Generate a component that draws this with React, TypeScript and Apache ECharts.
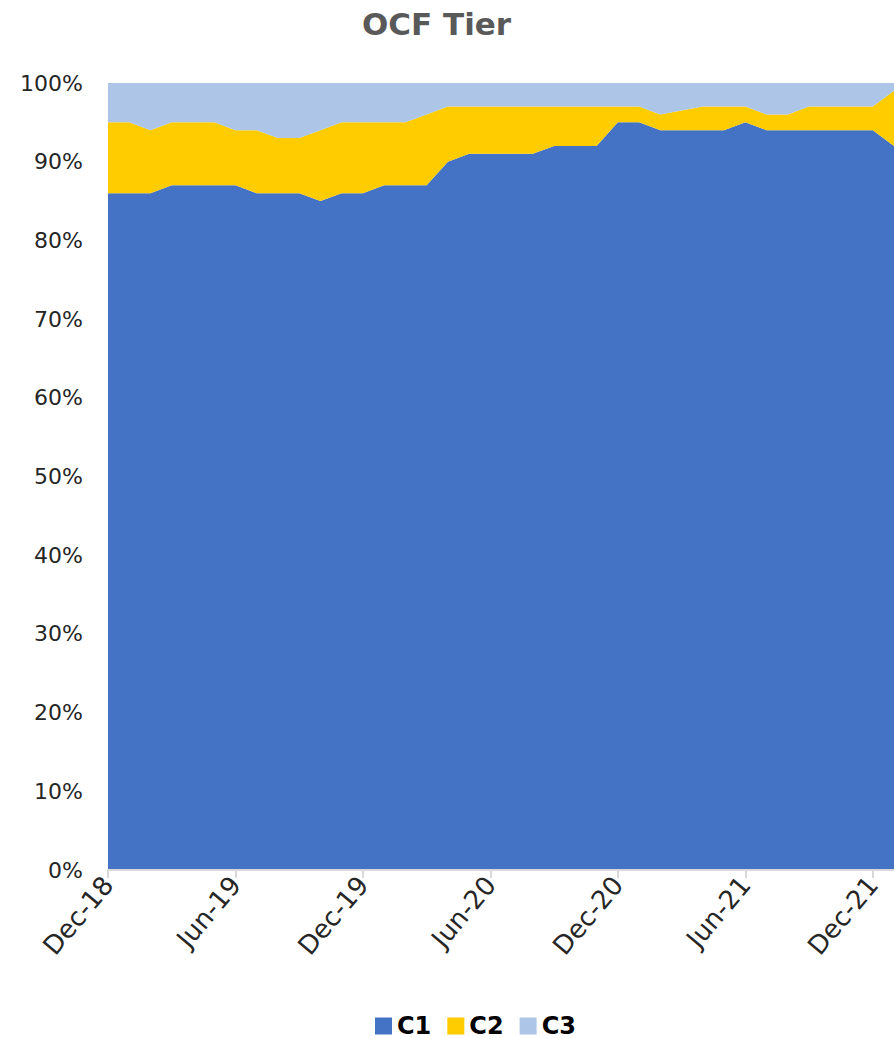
import React, { useEffect, useRef } from "react";
import * as echarts from "echarts";

const months = [
  "Dec-18", "Jan-19", "Feb-19", "Mar-19", "Apr-19", "May-19", "Jun-19", "Jul-19", "Aug-19", "Sep-19", "Oct-19", "Nov-19",
  "Dec-19", "Jan-20", "Feb-20", "Mar-20", "Apr-20", "May-20", "Jun-20", "Jul-20", "Aug-20", "Sep-20", "Oct-20", "Nov-20",
  "Dec-20", "Jan-21", "Feb-21", "Mar-21", "Apr-21", "May-21", "Jun-21", "Jul-21", "Aug-21", "Sep-21", "Oct-21", "Nov-21",
  "Dec-21", "Jan-22",
];

const c1 = [
  86, 86, 86, 87, 87, 87, 87, 86, 86, 86, 85, 86,
  86, 87, 87, 87, 90, 91, 91, 91, 91, 92, 92, 92,
  95, 95, 94, 94, 94, 94, 95, 94, 94, 94, 94, 94,
  94, 92,
];

const c2 = [
  9, 9, 8, 8, 8, 8, 7, 8, 7, 7, 9, 9,
  9, 8, 8, 9, 7, 6, 6, 6, 6, 5, 5, 5,
  2, 2, 2, 2.5, 3, 3, 2, 2, 2, 3, 3, 3,
  3, 7,
];

const c3 = c1.map((v, i) => 100 - v - c2[i]);

const yTicks = { min: 0, max: 100, interval: 10 };

const FONT = "DejaVu Sans";

export default function App() {
  const ref = useRef<HTMLDivElement>(null);
  useEffect(() => {
    if (!ref.current) return;
    const chart = echarts.init(ref.current, undefined, { renderer: "svg" });
    const mk = (name: string, data: number[], color: string) => ({
      name,
      type: "line",
      stack: "total",
      data,
      symbol: "none",
      lineStyle: { width: 0 },
      areaStyle: { color, opacity: 1 },
      itemStyle: { color },
      emphasis: { disabled: true },
    });
    chart.setOption({
      animation: false,
      backgroundColor: "#ffffff",
      title: {
        text: "OCF Tier",
        left: 357,
        top: 3,
        textStyle: { fontFamily: FONT, fontSize: 31, fontWeight: "bold", color: "#595959" },
      },
      legend: {
        left: 370,
        top: 1009,
        icon: "rect",
        itemWidth: 17,
        itemHeight: 17,
        itemGap: 16,
        textStyle: { fontFamily: FONT, fontSize: 24, fontWeight: "bold", color: "#000000" },
        data: ["C1", "C2", "C3"],
      },
      grid: { left: 108, right: -4.4, top: 83, bottom: 169, containLabel: false },
      xAxis: {
        type: "category",
        boundaryGap: false,
        data: months,
        axisLine: { show: true, lineStyle: { color: "#D9D9D9", width: 2 } },
        axisTick: { show: true, interval: 5, length: 8, lineStyle: { color: "#D9D9D9", width: 2 } },
        axisLabel: {
          interval: 5,
          rotate: 50,
          margin: 10,
          fontFamily: FONT,
          fontSize: 26,
          color: "#262626",
          align: "right",
          verticalAlign: "middle",
        },
        splitLine: { show: false },
        z: 10,
      },
      yAxis: {
        type: "value",
        min: yTicks.min,
        max: yTicks.max,
        interval: yTicks.interval,
        axisLine: { show: false },
        axisTick: { show: false },
        splitLine: { show: false },
        axisLabel: {
          formatter: "{value}%",
          margin: 25,
          fontFamily: FONT,
          fontSize: 22,
          color: "#262626",
        },
      },
      series: [
        mk("C1", c1, "#4472C4"),
        mk("C2", c2, "#FFCC00"),
        mk("C3", c3, "#ADC5E7"),
      ],
    });
    return () => chart.dispose();
  }, []);
  return (
    <div
      ref={ref}
      style={{ position: "absolute", left: 0, top: 0, width: 894, height: 1039 }}
    />
  );
}
